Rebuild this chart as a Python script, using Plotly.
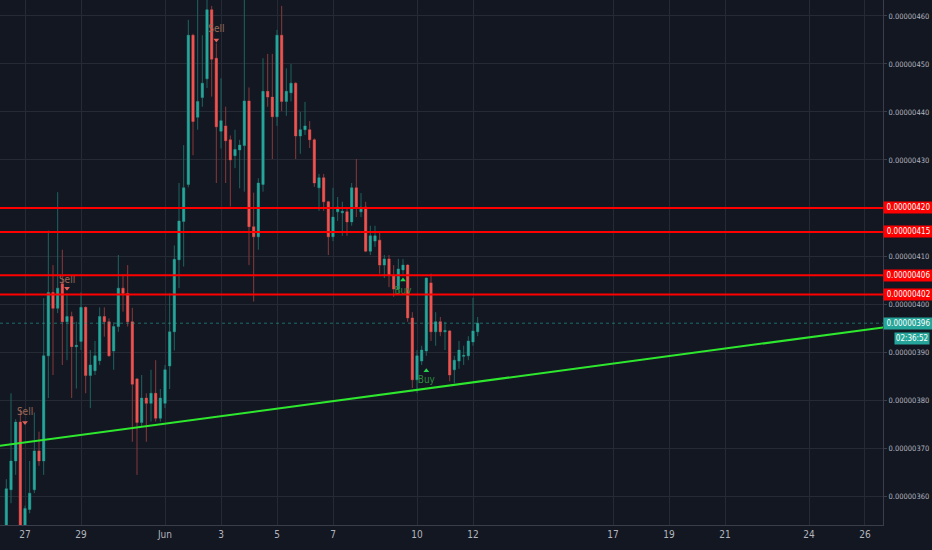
import pandas as pd
import plotly.graph_objects as go

# 4h candles, prices in satoshi (1e-8)
start = "2019-05-26 08:00"
opens = [350.0, 361.3, 367.3, 375.4, 352.5, 357.2, 361.3, 369.4, 367.3, 389.2,
         402.4, 399.1, 404.2, 396.3, 397.4, 391.1, 392.2, 399.3, 385.1, 386.1,
         388.2, 397.4, 396.3, 390.2, 395.3, 403.3, 402.2, 396.3, 384.4, 375.3,
         380.4, 379.3, 381.4, 376.2, 379.3, 387.1, 394.2, 409.2, 417.2, 424.9,
         456.0, 438.9, 443.0, 446.9, 461.3, 451.2, 436.0, 437.1, 434.2, 430.9,
         432.1, 433.0, 442.3, 416.1, 414.0, 424.9, 444.3, 443.1, 439.0, 456.0,
         442.2, 444.0, 446.0, 435.0, 436.3, 436.3, 434.2, 424.2, 426.3, 421.3,
         414.0, 419.2, 419.0, 419.2, 417.1, 424.2, 419.2, 420.2, 411.0, 413.1,
         413.3, 408.1, 409.4, 406.0, 403.1, 407.1, 408.1, 397.1, 384.2, 388.1,
         390.2, 404.4, 394.2, 396.3, 394.2, 394.4, 386.3, 388.1, 389.1, 389.2,
         392.1, 394.2]
highs = [363.5, 381.4, 376.0, 378.1, 358.0, 367.3, 377.4, 373.4, 401.2, 415.3,
         408.1, 423.3, 411.3, 402.2, 398.4, 396.3, 402.4, 399.5, 390.4, 392.3,
         399.3, 399.3, 397.0, 396.2, 410.2, 406.2, 408.1, 399.2, 384.6, 385.2,
         381.4, 386.3, 388.3, 382.3, 387.3, 402.2, 412.2, 425.2, 433.1, 459.2,
         456.3, 464.0, 456.0, 464.0, 462.1, 454.3, 447.0, 441.1, 435.1, 436.3,
         434.2, 464.0, 445.1, 423.2, 426.2, 451.2, 452.1, 452.1, 457.1, 462.1,
         449.1, 450.0, 446.2, 440.0, 442.1, 438.1, 434.5, 427.1, 427.1, 421.5,
         424.2, 422.3, 421.3, 420.2, 425.2, 430.2, 423.1, 421.3, 416.3, 416.3,
         415.2, 410.2, 410.2, 408.1, 409.4, 409.4, 408.3, 398.3, 390.4, 391.3,
         405.5, 406.3, 398.3, 397.3, 396.3, 394.6, 389.2, 392.3, 391.3, 393.3,
         401.3, 397.3]
lows = [348.0, 358.5, 364.4, 351.0, 351.0, 356.4, 360.6, 366.3, 364.4, 380.4,
        385.2, 398.1, 387.3, 388.3, 380.4, 382.4, 390.4, 381.4, 378.3, 385.2,
        387.3, 393.2, 389.0, 386.3, 394.2, 398.4, 395.3, 371.3, 364.4, 374.4,
        371.3, 375.5, 375.5, 375.5, 378.3, 382.3, 390.3, 403.3, 407.8, 424.3,
        431.0, 436.3, 441.1, 445.0, 443.2, 425.2, 432.4, 425.2, 420.3, 428.3,
        424.1, 423.4, 408.1, 400.5, 411.3, 423.4, 441.1, 430.2, 437.1, 440.2,
        439.2, 442.2, 430.2, 431.3, 435.2, 432.5, 424.4, 419.4, 419.4, 410.2,
        413.1, 417.3, 414.2, 414.2, 416.3, 418.1, 418.1, 410.8, 410.2, 411.9,
        406.3, 405.4, 403.5, 401.5, 402.3, 406.0, 396.3, 382.5, 381.5, 387.3,
        389.2, 392.3, 391.3, 393.3, 390.4, 383.9, 383.5, 386.5, 387.3, 388.3,
        391.3, 393.3]
closes = [361.5, 367.3, 375.4, 352.0, 357.4, 360.6, 369.4, 367.3, 389.2, 402.4,
          399.1, 403.3, 396.3, 397.4, 391.1, 391.4, 399.3, 385.1, 387.3, 389.2,
          397.4, 396.3, 389.2, 395.3, 403.3, 402.2, 396.3, 383.3, 375.3, 380.4,
          379.3, 381.4, 376.2, 380.4, 386.3, 394.2, 409.3, 417.3, 424.2, 456.0,
          438.0, 442.2, 446.0, 461.3, 451.0, 436.9, 438.2, 434.0, 430.0, 432.2,
          433.1, 442.3, 416.1, 414.0, 425.2, 444.3, 443.1, 439.0, 456.0, 442.2,
          444.3, 446.0, 435.0, 436.3, 437.1, 434.2, 425.2, 426.3, 421.3, 414.0,
          418.1, 420.2, 419.3, 417.1, 424.2, 420.0, 420.2, 411.0, 414.2, 414.2,
          408.1, 409.4, 406.0, 403.1, 407.3, 408.1, 397.1, 384.2, 389.2, 390.4,
          405.4, 394.2, 396.3, 394.2, 394.5, 385.2, 388.3, 390.4, 389.3, 392.3,
          394.4, 396.0]

levels = [420, 415, 406, 402]
last_price = 396
countdown = "02:36:52"

trend_dates = ["2019-05-26 00:00", "2019-06-27 00:00"]
trend_prices = [370.4, 395.4]

sell_dates = ["2019-05-27 00:00", "2019-05-28 12:00", "2019-06-02 20:00"]
sell_tri = [375.3, 403.3, 455.0]
sell_txt = [377.4, 405.0, 457.1]
buy_dates = ["2019-06-09 12:00", "2019-06-10 08:00"]
buy_tri = [405.0, 386.1]
buy_txt = [402.7, 384.1]

tick_dates = ["2019-05-27", "2019-05-29", "2019-06-01", "2019-06-03", "2019-06-05",
              "2019-06-07", "2019-06-10", "2019-06-12", "2019-06-17", "2019-06-19",
              "2019-06-21", "2019-06-24", "2019-06-26"]
tick_text = ["27", "29", "Jun", "3", "5", "7", "10", "12", "17", "19", "21", "24", "26"]
price_ticks = [360, 370, 380, 390, 400, 410, 420, 430, 440, 450, 460]

dates = pd.date_range(start, periods=len(opens), freq="4h")

BG = "#131722"
GRID = "#262a35"
UP, DOWN = "#26a69a", "#ef5350"
UPW, DOWNW = "#1d6461", "#87393a"
FONT = "Liberation Sans Narrow, DejaVu Sans Condensed, sans-serif"

fig = go.Figure()
# wicks (dim)
fig.add_trace(go.Candlestick(x=dates, open=opens, high=highs, low=lows, close=closes,
                             increasing=dict(line=dict(color=UPW, width=1), fillcolor=UPW),
                             decreasing=dict(line=dict(color=DOWNW, width=1), fillcolor=DOWNW),
                             hoverinfo="skip", showlegend=False))
# bodies
fig.add_trace(go.Candlestick(x=dates, open=opens, high=highs, low=lows, close=closes,
                             increasing=dict(line=dict(color=UP, width=0), fillcolor=UP),
                             decreasing=dict(line=dict(color=DOWN, width=0), fillcolor=DOWN),
                             showlegend=False))

for lv in levels:
    fig.add_hline(y=lv, line=dict(color="#ff0000", width=2))
fig.add_hline(y=last_price, line=dict(color="#26a69a", width=1, dash="dot"), opacity=0.6)

fig.add_trace(go.Scatter(x=trend_dates, y=trend_prices, mode="lines",
                         line=dict(color="#2ee82e", width=2), showlegend=False))

fig.add_trace(go.Scatter(x=sell_dates, y=sell_tri, mode="markers",
                         marker=dict(symbol="triangle-down", size=5, color="#e0605a"),
                         showlegend=False))
fig.add_trace(go.Scatter(x=sell_dates, y=sell_txt, mode="text", text=["Sell"] * len(sell_dates),
                         textfont=dict(family=FONT, size=10, color="#9a6a58"), showlegend=False))
fig.add_trace(go.Scatter(x=buy_dates, y=buy_tri, mode="markers",
                         marker=dict(symbol="triangle-up", size=5, color="#22d34c"),
                         showlegend=False))
fig.add_trace(go.Scatter(x=buy_dates, y=buy_txt, mode="text", text=["Buy"] * len(buy_dates),
                         textfont=dict(family=FONT, size=10, color="#2e8b3e"), showlegend=False))

for lv in levels:
    fig.add_annotation(x=1, xref="paper", y=lv, yref="y", xanchor="left", text=f"{lv * 1e-8:.8f}",
                       showarrow=False, bgcolor="#ff0000", width=47, borderpad=1,
                       font=dict(family=FONT, size=8, color="#ffffff"))
fig.add_annotation(x=1, xref="paper", y=last_price, yref="y", xanchor="left",
                   text=f"{last_price * 1e-8:.8f}", showarrow=False, bgcolor=UP, width=47,
                   borderpad=1, font=dict(family=FONT, size=8, color="#ffffff"))
fig.add_annotation(x=1, xref="paper", y=last_price, yref="y", xanchor="left", yshift=-15,
                   xshift=11, text=countdown, showarrow=False, bgcolor=UP, width=32, borderpad=1,
                   font=dict(family=FONT, size=8, color="#ffffff"))

fig.update_layout(
    width=932, height=550,
    margin=dict(l=0, r=49, t=0, b=25),
    paper_bgcolor=BG, plot_bgcolor=BG,
    font=dict(family=FONT, size=8, color="#b2b5be"),
    showlegend=False,
    xaxis=dict(type="date", range=["2019-05-26 02:34", "2019-06-26 15:26"],
               rangeslider=dict(visible=False), tickvals=tick_dates, ticktext=tick_text,
               showgrid=True, gridcolor=GRID, zeroline=False, showline=True,
               linecolor="#3a3e4a", ticks="", tickfont=dict(size=10), automargin=False),
    yaxis=dict(side="right", range=[353.96, 463.33], tickvals=price_ticks,
               ticktext=[f"{v * 1e-8:.8f}" for v in price_ticks],
               showgrid=True, gridcolor=GRID, zeroline=False, showline=True,
               linecolor="#3a3e4a", ticks="outside", ticklen=3, tickcolor="#3a3e4a",
               tickfont=dict(size=7.5), automargin=False),
)

fig.write_html("out.html", config={"displayModeBar": False},
               post_script="document.body.style.margin='0px';")
